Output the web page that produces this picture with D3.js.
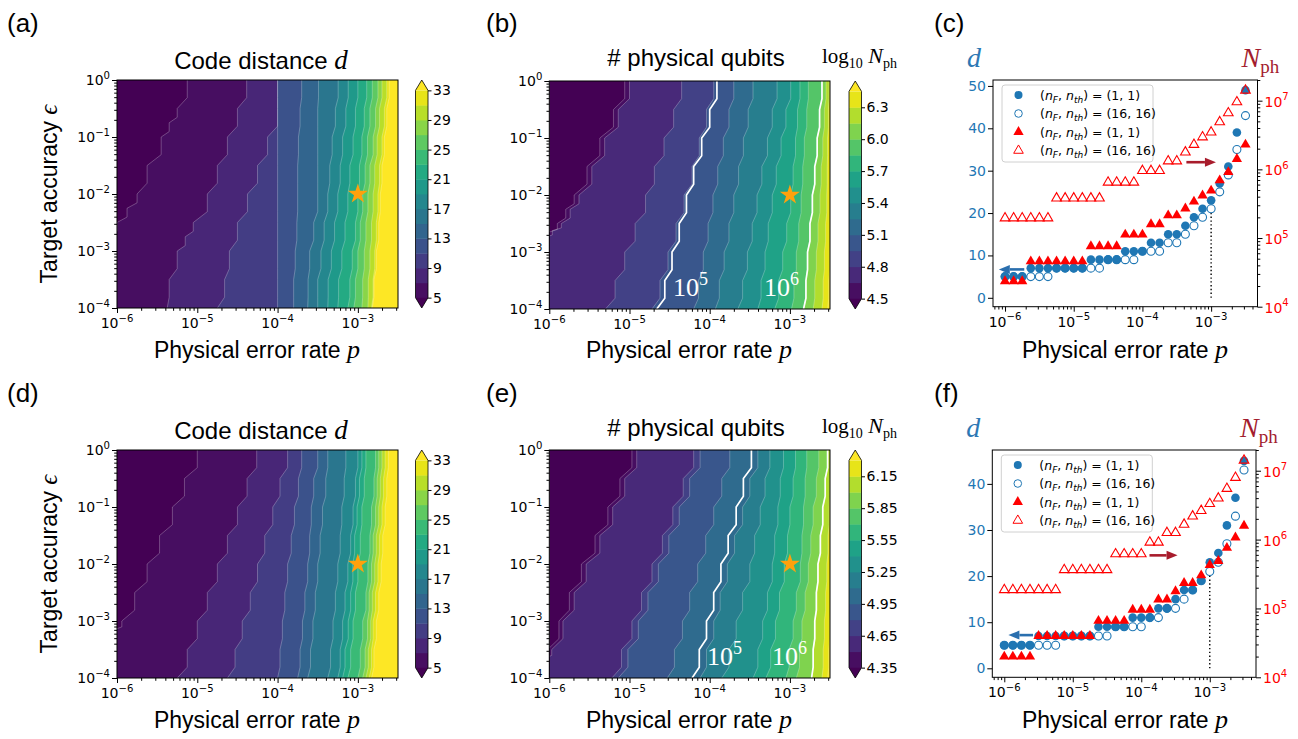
<!DOCTYPE html>
<html>
<head>
<meta charset="utf-8">
<script src="https://cdn.jsdelivr.net/npm/d3@7"></script>
<style>
  body { margin: 0; background: #fff; }
</style>
</head>
<body>
<script>
// ---------- data ----------
// grid columns of the physical error rate, log10 p
const pExp = [-6, -5.875, -5.75, -5.625, -5.5, -5.375, -5.25, -5.125, -5, -4.875, -4.75, -4.625,
  -4.5, -4.375, -4.25, -4.125, -4, -3.875, -3.75, -3.625, -3.5, -3.375, -3.25, -3.125, -3,
  -2.875, -2.75, -2.625, -2.5];
// rows at which contour boundaries were read, log10 eps
const epsExp = [0, -0.5, -1, -1.5, -2, -2.5, -3, -3.5, -4];

const xTickExp = [-6, -5, -4, -3];
const yTickExp = [0, -1, -2, -3, -4];

// contour levels
const levelsD = [5, 7, 9, 11, 13, 15, 17, 19, 21, 23, 25, 27, 29, 31, 33];
const levelsNb = [4.5, 4.65, 4.8, 4.95, 5.1, 5.25, 5.4, 5.55, 5.7, 5.85, 6.0, 6.15, 6.3, 6.45];
const levelsNe = [4.35, 4.5, 4.65, 4.8, 4.95, 5.1, 5.25, 5.4, 5.55, 5.7, 5.85, 6.0, 6.15, 6.3];
const cbTicksD = [5, 9, 13, 17, 21, 25, 29, 33];
const cbTicksB = ["4.5", "4.8", "5.1", "5.4", "5.7", "6.0", "6.3"];
const cbTicksE = ["4.35", "4.65", "4.95", "5.25", "5.55", "5.85", "6.15"];

// boundary of each level: log10 p where it crosses each eps row (one array per level)
const bndA = [
  [-5.125, -5.25, -5.45, -5.625, -5.75, -6.0, -6.3, -6.3, -6.3],
  [-4.385, -4.5, -4.625, -4.75, -4.875, -5.05, -5.25, -5.35, -5.375],
  [-4.0, -4.0, -4.125, -4.25, -4.375, -4.5, -4.6, -4.66, -4.75],
  [-4.0, -4.0, -4.0, -4.0, -4.0, -4.0, -4.0, -4.0, -4.0],
  [-3.7, -3.72, -3.74, -3.75, -3.75, -3.76, -3.78, -3.8, -3.8],
  [-3.49, -3.5, -3.5, -3.5, -3.5, -3.55, -3.6, -3.62, -3.625],
  [-3.245, -3.28, -3.32, -3.35, -3.375, -3.42, -3.46, -3.5, -3.5],
  [-3.12, -3.15, -3.19, -3.22, -3.25, -3.29, -3.33, -3.37, -3.375],
  [-3.0, -3.03, -3.06, -3.1, -3.125, -3.16, -3.2, -3.24, -3.25],
  [-2.89, -2.92, -2.95, -2.98, -3.0, -3.03, -3.07, -3.1, -3.125],
  [-2.82, -2.85, -2.88, -2.91, -2.94, -2.97, -3.0, -3.03, -3.05],
  [-2.75, -2.78, -2.81, -2.85, -2.875, -2.9, -2.92, -2.94, -2.95],
  [-2.70, -2.73, -2.76, -2.79, -2.81, -2.83, -2.85, -2.87, -2.875],
  [-2.64, -2.67, -2.7, -2.73, -2.75, -2.77, -2.79, -2.81, -2.83],
  [-2.61, -2.64, -2.67, -2.70, -2.72, -2.74, -2.77, -2.80, -2.82]
];
const bndB = [
  [-5.06, -5.2, -5.37, -5.53, -5.69, -5.9, -6.3, -6.3, -6.3],
  [-5.0, -5.14, -5.31, -5.47, -5.63, -5.85, -6.3, -6.3, -6.3],
  [-4.35, -4.45, -4.57, -4.69, -4.80, -4.93, -5.06, -5.18, -5.30],
  [-3.95, -4.04, -4.13, -4.22, -4.32, -4.42, -4.52, -4.62, -4.72],
  [-3.7, -3.76, -3.83, -3.9, -3.96, -4.02, -4.08, -4.14, -4.2],
  [-3.46, -3.52, -3.58, -3.64, -3.70, -3.76, -3.82, -3.88, -3.93],
  [-3.16, -3.22, -3.28, -3.35, -3.41, -3.47, -3.53, -3.59, -3.65],
  [-2.99, -3.05, -3.11, -3.17, -3.22, -3.27, -3.31, -3.36, -3.40],
  [-2.875, -2.905, -2.93, -2.96, -2.99, -3.04, -3.09, -3.14, -3.19],
  [-2.77, -2.79, -2.82, -2.84, -2.86, -2.89, -2.92, -2.95, -2.98],
  [-2.60, -2.63, -2.66, -2.69, -2.72, -2.75, -2.78, -2.80, -2.83],
  [-2.55, -2.57, -2.59, -2.61, -2.625, -2.65, -2.67, -2.69, -2.71],
  [-2.51, -2.52, -2.53, -2.535, -2.54, -2.555, -2.57, -2.585, -2.60],
  [-2.45, -2.45, -2.45, -2.45, -2.47, -2.49, -2.5, -2.515, -2.53]
];
const white5B = [-3.91, -4.0, -4.1, -4.2, -4.29, -4.38, -4.47, -4.56, -4.66];
const bndD = [
  [-5.0, -5.16, -5.31, -5.47, -5.625, -5.78, -5.94, -6.3, -6.3],
  [-4.26, -4.38, -4.5, -4.625, -4.75, -4.875, -5.0, -5.125, -5.25],
  [-3.875, -3.97, -4.06, -4.16, -4.25, -4.34, -4.44, -4.53, -4.625],
  [-3.7, -3.74, -3.79, -3.83, -3.875, -3.91, -3.94, -3.97, -4.0],
  [-3.5, -3.55, -3.58, -3.6, -3.625, -3.66, -3.69, -3.72, -3.75],
  [-3.375, -3.4, -3.44, -3.47, -3.5, -3.53, -3.56, -3.59, -3.625],
  [-3.15, -3.17, -3.2, -3.22, -3.25, -3.28, -3.31, -3.34, -3.375],
  [-3.0, -3.03, -3.06, -3.09, -3.125, -3.16, -3.19, -3.22, -3.25],
  [-2.95, -2.98, -3.01, -3.04, -3.0625, -3.09, -3.12, -3.16, -3.19],
  [-2.9, -2.92, -2.95, -2.97, -3.0, -3.03, -3.06, -3.09, -3.125],
  [-2.78, -2.8, -2.83, -2.85, -2.875, -2.9, -2.94, -2.97, -3.0],
  [-2.74, -2.76, -2.78, -2.81, -2.83, -2.86, -2.88, -2.91, -2.94],
  [-2.7, -2.72, -2.74, -2.77, -2.79, -2.82, -2.84, -2.87, -2.9],
  [-2.66, -2.68, -2.7, -2.73, -2.75, -2.78, -2.81, -2.83, -2.86],
  [-2.62, -2.64, -2.66, -2.69, -2.71, -2.74, -2.77, -2.8, -2.83]
];
const bndE = [
  [-4.97, -5.12, -5.27, -5.43, -5.60, -5.75, -5.88, -6.02, -6.3],
  [-4.91, -5.06, -5.21, -5.37, -5.54, -5.69, -5.83, -5.97, -6.3],
  [-4.20, -4.33, -4.46, -4.59, -4.72, -4.85, -4.97, -5.10, -5.22],
  [-4.12, -4.25, -4.38, -4.51, -4.64, -4.77, -4.89, -5.02, -5.14],
  [-3.75, -3.85, -3.95, -4.05, -4.15, -4.25, -4.34, -4.44, -4.53],
  [-3.40, -3.5, -3.59, -3.69, -3.78, -3.87, -3.95, -4.04, -4.12],
  [-3.25, -3.31, -3.37, -3.44, -3.5, -3.59, -3.67, -3.76, -3.85],
  [-3.08, -3.12, -3.15, -3.19, -3.22, -3.28, -3.34, -3.40, -3.46],
  [-2.93, -2.96, -3.0, -3.03, -3.07, -3.13, -3.18, -3.24, -3.30],
  [-2.79, -2.81, -2.83, -2.85, -2.87, -2.92, -2.96, -3.01, -3.05],
  [-2.64, -2.67, -2.71, -2.74, -2.77, -2.81, -2.85, -2.88, -2.92],
  [-2.53, -2.56, -2.59, -2.62, -2.65, -2.67, -2.69, -2.71, -2.73],
  [-2.49, -2.5, -2.51, -2.525, -2.54, -2.555, -2.57, -2.585, -2.60],
  [-2.45, -2.45, -2.45, -2.46, -2.47, -2.49, -2.5, -2.515, -2.53]
];
const white5E = [-3.48, -3.58, -3.67, -3.77, -3.86, -3.95, -4.04, -4.13, -4.22];

// panel (c): code distance and log10 N_ph at eps = 1e-2
const dFilledC = [5, 5, 5, 7, 7, 7, 7, 7, 7, 7, 9, 9, 9, 9, 11, 11, 11, 13, 13, 15, 15, 17, 19, 21, 23, 27, 31, 39, 49];
const dOpenC = [5, 5, 5, 5, 5, 5, 7, 7, 7, 7, 7, 7, 9, 9, 9, 9, 11, 11, 11, 13, 13, 15, 17, 19, 21, 25, 29, 35, 43];
const nFilledC = [4.37, 4.37, 4.37, 4.66, 4.66, 4.66, 4.66, 4.66, 4.66, 4.66, 4.88, 4.88, 4.88, 4.88,
  5.05, 5.05, 5.05, 5.20, 5.20, 5.33, 5.33, 5.43, 5.53, 5.62, 5.69, 5.84, 5.96, 6.15, 6.36];
const nOpenC = [5.29, 5.29, 5.29, 5.29, 5.29, 5.29, 5.58, 5.58, 5.58, 5.58, 5.58, 5.58, 5.81, 5.81, 5.81, 5.81,
  5.98, 5.98, 5.98, 6.12, 6.12, 6.25, 6.36, 6.47, 6.54, 6.69, 6.82, 6.98, 7.15];
// panel (f)
const dFilledF = [5, 5, 5, 5, 7, 7, 7, 7, 7, 7, 7, 9, 9, 9, 9, 11, 11, 11, 13, 13, 15, 17, 17, 19, 23, 25, 31, 37, 45];
const dOpenF = [5, 5, 5, 5, 5, 5, 5, 7, 7, 7, 7, 7, 7, 9, 9, 9, 9, 11, 11, 13, 13, 15, 17, 19, 21, 23, 27, 33, 43];
const nFilledF = [4.30, 4.30, 4.30, 4.30, 4.60, 4.60, 4.60, 4.60, 4.60, 4.60, 4.60, 4.82, 4.82, 4.82, 4.82,
  4.98, 4.98, 4.98, 5.13, 5.13, 5.25, 5.37, 5.37, 5.48, 5.63, 5.69, 5.88, 6.03, 6.20];
const nOpenF = [5.27, 5.27, 5.27, 5.27, 5.27, 5.27, 5.27, 5.56, 5.56, 5.56, 5.56, 5.56, 5.56, 5.79, 5.79, 5.79, 5.79,
  5.96, 5.96, 6.10, 6.10, 6.22, 6.34, 6.42, 6.52, 6.60, 6.74, 6.90, 7.15];

const legendLabels = [["1", "1"], ["16", "16"], ["1", "1"], ["16", "16"]];

// ---------- drawing ----------
const SANS = "'Liberation Sans', Arial, Helvetica, sans-serif";
const SERIF = "'Liberation Serif', 'Times New Roman', serif";
const TICK = "'DejaVu Sans', sans-serif";
const VIR = d3.interpolateViridis;
const BLUE = "#1f77b4", RED = "#ff0000", DARKRED = "#a31c2e";

const svg = d3.select("body").append("svg").attr("width", 1298).attr("height", 739);

// staircase curve: vertical run, then a short diagonal, one grid column per step
function stairs(step) {
  return function (context) {
    let px, py, started;
    return {
      areaStart() {}, areaEnd() {},
      lineStart() { started = false; },
      lineEnd() {},
      point(x, y) {
        if (!started) { context.moveTo(x, y); started = true; }
        else {
          const n = Math.max(1, Math.round(Math.abs(x - px) / step));
          const dx = (x - px) / n, dy = (y - py) / n;
          for (let k = 0; k < n; k++) {
            const xa = px + dx * k, ya = py + dy * k;
            context.lineTo(xa, ya + dy * 0.62);
            context.lineTo(xa + dx, ya + dy);
          }
        }
        px = x; py = y;
      }
    };
  };
}

function tenPow(t, e, fs) {
  t.append("tspan").text("10");
  t.append("tspan").attr("font-size", fs * 0.72).attr("dy", -fs * 0.45)
    .text(e < 0 ? "\u2212" + (-e) : String(e));
}

function richText(x, y, anchor, parts, transform) {
  const t = svg.append("text").attr("x", x).attr("y", y).attr("text-anchor", anchor);
  if (transform) t.attr("transform", transform).attr("x", 0).attr("y", 0);
  parts.forEach(p => {
    const s = t.append("tspan").text(p.t)
      .attr("font-family", p.serif ? SERIF : (p.tick ? TICK : SANS))
      .attr("font-size", p.size)
      .attr("fill", p.fill || "#000");
    if (p.italic) s.attr("font-style", "italic");
    if (p.dy) s.attr("dy", p.dy);
  });
  return t;
}

function logAxes(g, x, y, box, xMaj, yMaj) {
  const isMaj = (v, maj) => maj.some(e => Math.abs(Math.log10(v) - e) < 1e-6);
  const bottom = g.append("g").attr("transform", `translate(0,${box.y1})`);
  bottom.call(d3.axisBottom(x).tickValues(xMaj.map(e => 10 ** e)).tickSize(5).tickFormat(""));
  bottom.append("g").call(d3.axisBottom(x).tickValues(x.ticks().filter(v => !isMaj(v, xMaj))).tickSize(2.8).tickFormat(""));
  bottom.selectAll(".domain").remove();
  xMaj.forEach(e => {
    const t = g.append("text").attr("x", x(10 ** e)).attr("y", box.y1 + 20)
      .attr("text-anchor", "middle").attr("font-family", TICK).attr("font-size", 14);
    tenPow(t, e, 14);
  });
  if (y) {
    const left = g.append("g").attr("transform", `translate(${box.x0},0)`);
    left.call(d3.axisLeft(y).tickValues(yMaj.map(e => 10 ** e)).tickSize(5).tickFormat(""));
    left.append("g").call(d3.axisLeft(y).tickValues(y.ticks().filter(v => !isMaj(v, yMaj))).tickSize(2.8).tickFormat(""));
    left.selectAll(".domain").remove();
    yMaj.forEach(e => {
      const t = g.append("text").attr("x", box.x0 - 7).attr("y", y(10 ** e) + 5)
        .attr("text-anchor", "end").attr("font-family", TICK).attr("font-size", 14);
      tenPow(t, e, 14);
    });
  }
}

function drawHeat(o) {
  const g = svg.append("g");
  const x = d3.scaleLog().domain([10 ** pExp[0], 10 ** pExp[pExp.length - 1]]).range([o.x0, o.x1]);
  const y = d3.scaleLog().domain([10 ** epsExp[0], 10 ** epsExp[epsExp.length - 1]]).range([o.y0, o.y1]);
  const colW = x(10 ** pExp[1]) - x(10 ** pExp[0]);
  const lv = o.levels, n = lv.length, lo = lv[0], hi = lv[n - 1];
  const bandColor = k => k < n - 1 ? VIR(((lv[k] + lv[k + 1]) / 2 - lo) / (hi - lo)) : VIR(1);

  g.append("clipPath").attr("id", "clip" + o.id).append("rect")
    .attr("x", o.x0).attr("y", o.y0).attr("width", o.x1 - o.x0).attr("height", o.y1 - o.y0);
  const plot = g.append("g").attr("clip-path", `url(#clip${o.id})`);
  plot.append("rect").attr("x", o.x0).attr("y", o.y0).attr("width", o.x1 - o.x0)
    .attr("height", o.y1 - o.y0).attr("fill", VIR(0));

  const line = d3.line().x(d => x(10 ** d[0])).y(d => y(10 ** d[1])).curve(stairs(colW));
  const pts = b => b.map((v, i) => [v, epsExp[i]]);
  o.bounds.forEach((b, k) => {
    plot.append("path")
      .attr("d", line(pts(b)) + `L${o.x1 + 5},${o.y1}L${o.x1 + 5},${o.y0}Z`)
      .attr("fill", bandColor(k));
  });
  o.bounds.forEach(b => {
    plot.append("path").attr("d", line(pts(b))).attr("fill", "none")
      .attr("stroke", "rgba(255,255,255,0.33)").attr("stroke-width", 0.8);
  });
  (o.white || []).forEach(b => {
    plot.append("path").attr("d", line(pts(b))).attr("fill", "none")
      .attr("stroke", "#fff").attr("stroke-width", 1.7);
  });
  (o.whiteLabels || []).forEach(l => {
    const t = g.append("text").attr("x", l.x).attr("y", l.y).attr("fill", "#fff")
      .attr("font-family", SERIF).attr("font-size", 26);
    t.append("tspan").text("10");
    t.append("tspan").attr("font-size", 18).attr("dy", -11).text(l.e);
  });

  // star at p = 1e-3, eps = 1e-2
  g.append("path").attr("d", d3.symbol(d3.symbolStar, 125)())
    .attr("transform", `translate(${x(1e-3)},${y(1e-2)})`).attr("fill", "#ffa10c");

  g.append("rect").attr("x", o.x0).attr("y", o.y0).attr("width", o.x1 - o.x0)
    .attr("height", o.y1 - o.y0).attr("fill", "none").attr("stroke", "#000").attr("stroke-width", 1);
  logAxes(g, x, y, o, xTickExp, yTickExp);

  // colorbar with extensions
  const L = (o.y1 - o.y0) / 1.1, ext = 0.05 * L;
  const cb = d3.scaleLinear().domain([lo, hi]).range([o.y1 - ext, o.y0 + ext]);
  const cx0 = o.cbx, cx1 = o.cbx + 12.5, cm = (cx0 + cx1) / 2;
  for (let k = 0; k < n - 1; k++) {
    g.append("rect").attr("x", cx0).attr("y", cb(lv[k + 1])).attr("width", cx1 - cx0)
      .attr("height", cb(lv[k]) - cb(lv[k + 1]) + 0.4).attr("fill", bandColor(k));
  }
  g.append("path").attr("d", `M${cx0},${cb(hi)}L${cm},${o.y0}L${cx1},${cb(hi)}Z`).attr("fill", VIR(1));
  g.append("path").attr("d", `M${cx0},${cb(lo)}L${cm},${o.y1}L${cx1},${cb(lo)}Z`).attr("fill", VIR(0));
  g.append("path")
    .attr("d", `M${cx0},${cb(hi)}L${cm},${o.y0}L${cx1},${cb(hi)}L${cx1},${cb(lo)}L${cm},${o.y1}L${cx0},${cb(lo)}Z`)
    .attr("fill", "none").attr("stroke", "#000").attr("stroke-width", 0.8);
  const cax = g.append("g").attr("transform", `translate(${cx1},0)`)
    .call(d3.axisRight(cb).tickValues(o.cbTicks.map(Number)).tickSize(3.5).tickFormat(""));
  cax.select(".domain").remove();
  o.cbTicks.forEach(v => {
    g.append("text").attr("x", cx1 + 5).attr("y", cb(+v) + 5).attr("font-family", TICK)
      .attr("font-size", 14).text(String(v));
  });
}

function drawScatter(o) {
  const g = svg.append("g");
  const x = d3.scaleLog().domain([10 ** -6.175, 10 ** -2.325]).range([o.x0, o.x1]);
  const yL = d3.scaleLinear().domain(o.dDom).range([o.y1, o.y0]);
  const yR = d3.scaleLog().domain([1e4, 2e7]).range([o.y1, o.y0]);
  const px = i => x(10 ** pExp[i]);

  // dotted guide at p = 1e-3
  g.append("line").attr("x1", x(1e-3)).attr("x2", x(1e-3)).attr("y1", yL(0)).attr("y2", yL(20))
    .attr("stroke", "#000").attr("stroke-width", 1.4).attr("stroke-dasharray", "1.4,2.4");

  g.selectAll(null).data(o.dFilled).join("circle").attr("cx", (d, i) => px(i)).attr("cy", d => yL(d))
    .attr("r", 4.3).attr("fill", BLUE);
  g.selectAll(null).data(o.dOpen).join("circle").attr("cx", (d, i) => px(i)).attr("cy", d => yL(d))
    .attr("r", 4.0).attr("fill", "none").attr("stroke", BLUE).attr("stroke-width", 1.1);
  const tri = d3.symbol(d3.symbolTriangle, 46)();
  const triO = d3.symbol(d3.symbolTriangle, 40)();
  g.selectAll(null).data(o.nFilled).join("path").attr("d", tri)
    .attr("transform", (d, i) => `translate(${px(i)},${yR(10 ** d)})`).attr("fill", RED);
  g.selectAll(null).data(o.nOpen).join("path").attr("d", triO)
    .attr("transform", (d, i) => `translate(${px(i)},${yR(10 ** d)})`)
    .attr("fill", "none").attr("stroke", RED).attr("stroke-width", 1.1);

  // arrows
  const arrow = (a, color) => {
    const x1 = x(10 ** a[0]), x2 = x(10 ** a[1]), yy = yL(a[2]);
    const s = Math.sign(x2 - x1), hl = 11;
    g.append("line").attr("x1", x1).attr("x2", x2 - s * hl).attr("y1", yy).attr("y2", yy)
      .attr("stroke", color).attr("stroke-width", 2.6);
    g.append("path").attr("d", `M${x2},${yy}L${x2 - s * hl},${yy - 4.5}L${x2 - s * hl},${yy + 4.5}Z`).attr("fill", color);
  };
  arrow(o.arrowL, "#2a6fae");
  arrow(o.arrowR, "#a81c2c");

  g.append("rect").attr("x", o.x0).attr("y", o.y0).attr("width", o.x1 - o.x0)
    .attr("height", o.y1 - o.y0).attr("fill", "none").attr("stroke", "#000").attr("stroke-width", 1);
  logAxes(g, x, null, o, xTickExp, null);

  const left = g.append("g").attr("transform", `translate(${o.x0},0)`)
    .call(d3.axisLeft(yL).tickValues(o.dTicks).tickSize(5).tickFormat(""));
  left.select(".domain").remove();
  o.dTicks.forEach(v => g.append("text").attr("x", o.x0 - 7).attr("y", yL(v) + 5)
    .attr("text-anchor", "end").attr("font-family", TICK).attr("font-size", 14).attr("fill", BLUE).text(v));

  const rMaj = [4, 5, 6, 7];
  const right = g.append("g").attr("transform", `translate(${o.x1},0)`);
  right.call(d3.axisRight(yR).tickValues(rMaj.map(e => 10 ** e)).tickSize(5).tickFormat(""));
  right.append("g").call(d3.axisRight(yR)
    .tickValues(yR.ticks().filter(v => !rMaj.some(e => Math.abs(Math.log10(v) - e) < 1e-6))).tickSize(2.8).tickFormat(""));
  right.selectAll(".domain").remove();
  rMaj.forEach(e => {
    const t = g.append("text").attr("x", o.x1 + 7).attr("y", yR(10 ** e) + 6)
      .attr("font-family", TICK).attr("font-size", 14).attr("fill", RED);
    tenPow(t, e, 14);
  });

  // legend
  const lg = g.append("g");
  lg.append("rect").attr("x", o.x0 + 9).attr("y", o.y0 + 5).attr("width", 151).attr("height", 77)
    .attr("rx", 3).attr("fill", "rgba(255,255,255,0.85)").attr("stroke", "#d0d0d0");
  const mx = o.x0 + 25.5;
  const rowsY = [15, 33.5, 52, 70.5].map(v => o.y0 + v);
  lg.append("circle").attr("cx", mx).attr("cy", rowsY[0]).attr("r", 4).attr("fill", BLUE);
  lg.append("circle").attr("cx", mx).attr("cy", rowsY[1]).attr("r", 3.8).attr("fill", "none").attr("stroke", BLUE);
  lg.append("path").attr("d", tri).attr("transform", `translate(${mx},${rowsY[2]})`).attr("fill", RED);
  lg.append("path").attr("d", triO).attr("transform", `translate(${mx},${rowsY[3]})`).attr("fill", "none").attr("stroke", RED);
  legendLabels.forEach((lab, i) => {
    const t = lg.append("text").attr("x", o.x0 + 47).attr("y", rowsY[i] + 4.5)
      .attr("font-family", TICK).attr("font-size", 12.5);
    t.append("tspan").text("(");
    t.append("tspan").attr("font-style", "italic").text("n");
    t.append("tspan").attr("font-style", "italic").attr("font-size", 9).attr("dy", 3).text("F");
    t.append("tspan").attr("dy", -3).text(", ");
    t.append("tspan").attr("font-style", "italic").text("n");
    t.append("tspan").attr("font-style", "italic").attr("font-size", 9).attr("dy", 3).text("th");
    t.append("tspan").attr("dy", -3).text(`) = (${lab[0]}, ${lab[1]})`);
  });

  richText(o.x0 - 26, o.y0 - 13, "start", [{ t: "d", serif: true, italic: true, size: 28, fill: "#2d78b4" }]);
  richText(o.x1 - 16, o.y0 - 13, "start", [
    { t: "N", serif: true, italic: true, size: 28, fill: DARKRED },
    { t: "ph", serif: true, size: 19, fill: DARKRED, dy: 6 }]);
}

// ---------- layout ----------
const rows = [{ y0: 80, y1: 308, off: 0 }, { y0: 450, y1: 678, off: 370 }];

drawHeat({ id: "a", x0: 117, x1: 398, y0: 80, y1: 308, cbx: 415.5, levels: levelsD, bounds: bndA, cbTicks: cbTicksD });
drawHeat({ id: "b", x0: 549.3, x1: 830, y0: 81, y1: 309, cbx: 849, levels: levelsNb, bounds: bndB, cbTicks: cbTicksB,
  white: [white5B, bndB[10]], whiteLabels: [{ x: 673, y: 296, e: "5" }, { x: 764, y: 296, e: "6" }] });
drawHeat({ id: "d", x0: 117, x1: 398, y0: 450, y1: 678, cbx: 415.5, levels: levelsD, bounds: bndD, cbTicks: cbTicksD });
drawHeat({ id: "e", x0: 549.3, x1: 830, y0: 450, y1: 678, cbx: 849, levels: levelsNe, bounds: bndE, cbTicks: cbTicksE,
  white: [white5E, bndE[11]], whiteLabels: [{ x: 707, y: 665, e: "5" }, { x: 772, y: 665, e: "6" }] });

drawScatter({ x0: 993, x1: 1257.5, y0: 80, y1: 306.7, dDom: [-2.1, 51.4], dTicks: [0, 10, 20, 30, 40, 50],
  dFilled: dFilledC, dOpen: dOpenC, nFilled: nFilledC, nOpen: nOpenC,
  arrowL: [-5.72, -6.09, 6.7], arrowR: [-3.36, -2.93, 32] });
drawScatter({ x0: 992.3, x1: 1256, y0: 450, y1: 677.3, dDom: [-1.95, 47.35], dTicks: [0, 10, 20, 30, 40],
  dFilled: dFilledF, dOpen: dOpenF, nFilled: nFilledF, nOpen: nOpenF,
  arrowL: [-5.58, -5.94, 7.2], arrowR: [-3.88, -3.47, 24.5] });

// titles, labels
rows.forEach(r => {
  richText(261, 69 + r.off, "middle", [{ t: "Code distance ", size: 24 }, { t: "d", serif: true, italic: true, size: 27 }]);
  richText(696, 66 + r.off, "middle", [{ t: "# physical qubits", size: 24 }]);
  richText(822, 63 + r.off, "start", [
    { t: "log", serif: true, size: 21 }, { t: "10", serif: true, size: 14, dy: 5 },
    { t: " N", serif: true, italic: true, size: 22, dy: -5 }, { t: "ph", serif: true, size: 14, dy: 5 }]);
  [[257, 117], [689, 549]].forEach(c => {
    richText(c[0], 358 + r.off, "middle", [{ t: "Physical error rate ", size: 23 }, { t: "p", serif: true, italic: true, size: 26 }]);
  });
  richText(1125, 358 + r.off, "middle", [{ t: "Physical error rate ", size: 23 }, { t: "p", serif: true, italic: true, size: 26 }]);
  richText(0, 0, "middle", [{ t: "Target accuracy ", size: 23 }, { t: "\u03f5", serif: true, italic: true, size: 25 }],
    `translate(57,${194 + r.off}) rotate(-90)`);
});
[["(a)", 7, 32], ["(b)", 486, 32], ["(c)", 934, 32], ["(d)", 7, 402], ["(e)", 486, 402], ["(f)", 934, 402]]
  .forEach(l => richText(l[1], l[2], "start", [{ t: l[0], size: 26 }]));
</script>
</body>
</html>
